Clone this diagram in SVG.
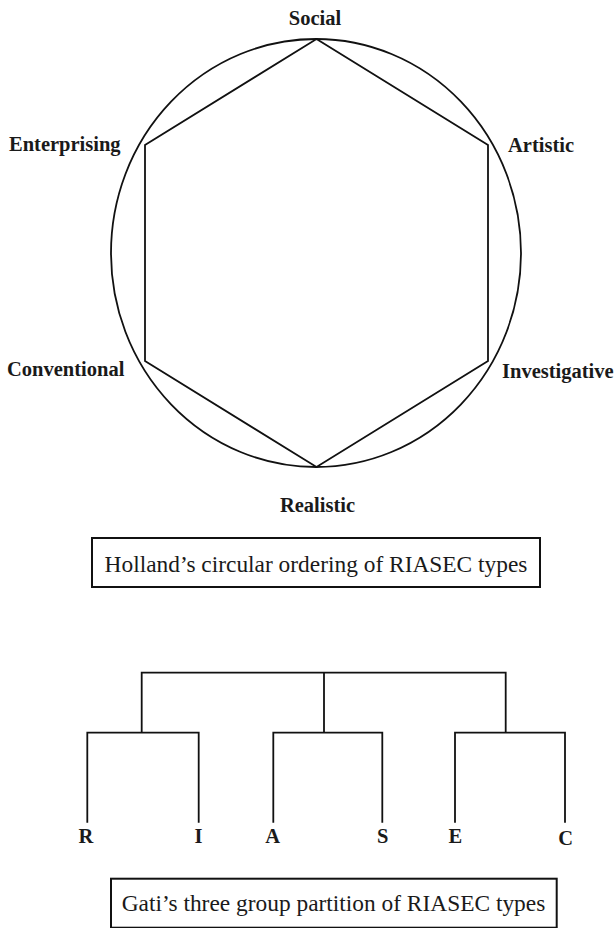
<svg xmlns="http://www.w3.org/2000/svg" width="615" height="928" viewBox="0 0 615 928">
<style>
.lbl{font-family:"Liberation Serif","Times New Roman",serif;font-weight:bold;font-size:20.5px;fill:#1a1a1a}
.cap{font-family:"Liberation Serif","Times New Roman",serif;font-size:23.4px;fill:#1a1a1a}
.ln{fill:none;stroke:#111;stroke-width:1.8;stroke-linejoin:miter}
.box{fill:#fff;stroke:#111;stroke-width:2}
</style>
<rect width="615" height="928" fill="#fff"/>
<g id="holland">
  <ellipse class="ln" cx="316" cy="253" rx="205" ry="214"/>
  <polygon class="ln" points="316.5,39 488,145 488,361 316.5,467 145,361 145,145"/>
</g>
<g id="social"><text class="lbl" x="315" y="25" text-anchor="middle">Social</text></g>
<g id="enterprising"><text class="lbl" x="9" y="151">Enterprising</text></g>
<g id="artistic"><text class="lbl" x="508" y="152">Artistic</text></g>
<g id="conventional"><text class="lbl" x="7" y="376">Conventional</text></g>
<g id="investigative"><text class="lbl" x="502" y="378">Investigative</text></g>
<g id="realistic"><text class="lbl" x="317.5" y="512" text-anchor="middle">Realistic</text></g>
<g id="caption1">
  <rect class="box" x="92" y="538" width="448" height="49"/>
  <text class="cap" x="316" y="571.5" text-anchor="middle">Holland’s circular ordering of RIASEC types</text>
</g>
<g id="connectors">
  <path class="ln" d="M141.7,732.7 V672.7 H505.7 V732.7 M324,672.7 V732.7"/>
  <path class="ln" d="M87.3,822.7 V732.7 H198.7 V822.7"/>
  <path class="ln" d="M273.3,822.7 V732.7 H382.3 V822.7"/>
  <path class="ln" d="M455,822.7 V732.7 H565 V822.7"/>
</g>
<g id="R"><text class="lbl" x="86" y="842.7" text-anchor="middle">R</text></g>
<g id="I"><text class="lbl" x="198.5" y="842.7" text-anchor="middle">I</text></g>
<g id="A"><text class="lbl" x="272.7" y="842.7" text-anchor="middle">A</text></g>
<g id="S"><text class="lbl" x="382.7" y="842.7" text-anchor="middle">S</text></g>
<g id="E"><text class="lbl" x="455.3" y="842.7" text-anchor="middle">E</text></g>
<g id="C"><text class="lbl" x="565.7" y="845" text-anchor="middle">C</text></g>
<g id="caption2">
  <rect class="box" x="111" y="878.7" width="445.7" height="49"/>
  <text class="cap" x="333.5" y="911" text-anchor="middle">Gati’s three group partition of RIASEC types</text>
</g>
</svg>
